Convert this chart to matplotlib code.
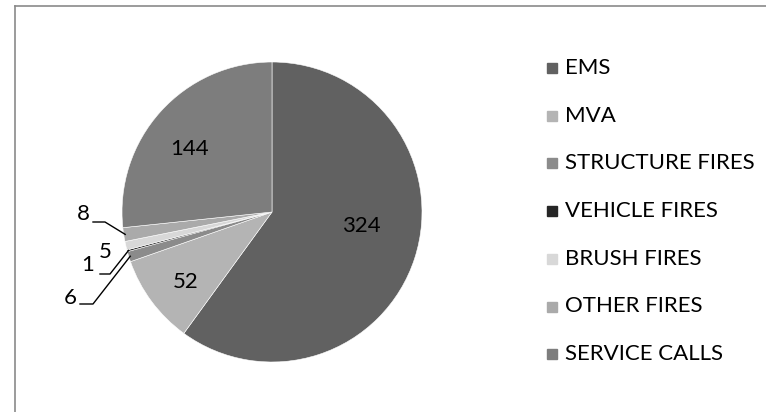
import numpy as np
import matplotlib.pyplot as plt
from matplotlib.patches import Rectangle
from matplotlib.lines import Line2D

plt.rcParams['font.family'] = ['Lato', 'DejaVu Sans']

###### Data #######
categories = ['EMS', 'MVA', 'STRUCTURE FIRES', 'VEHICLE FIRES',
              'BRUSH FIRES', 'OTHER FIRES', 'SERVICE CALLS']
calls = [324, 52, 6, 1, 5, 8, 144]
colors = ['#616161', '#b4b4b4', '#8b8b8b', '#262626',
          '#d8d8d8', '#aaaaaa', '#7d7d7d']
###################

W, H = 766, 412
R = 150.0           # pie radius in px
cx, cy = 272, 212   # pie centre in px
FS = 16


def px(x, y):
    # pixel -> data coords (pie radius = 1)
    return (x - cx) / R, (cy - y) / R


fig = plt.figure(figsize=(W / 100, H / 100), dpi=100)
ax = fig.add_axes([0, 0, 1, 1])
wedges, _ = ax.pie(calls, colors=colors, startangle=90, counterclock=False,
                   wedgeprops=dict(edgecolor='white', linewidth=0.4))
ax.set_xlim(-cx / R, (W - cx) / R)
ax.set_ylim((cy - H) / R, cy / R)
ax.axis('off')

# big slice labels (inside)
inside = {0: (361, 226), 1: (186, 282), 6: (190, 149)}
for i, (x, y) in inside.items():
    ax.text(*px(x, y), str(calls[i]), ha='center', va='center', fontsize=FS)

# small slice labels with leader lines
# idx: (text pos, leader points)
outside = {
    5: ((83, 214), [(93, 222), (105, 222)]),
    4: ((105, 252), []),
    3: ((88, 265), [(100, 274), (110, 274)]),
    2: ((70, 298), [(80, 304), (93, 304)]),
}
for i, ((x, y), pts) in outside.items():
    ax.text(*px(x, y), str(calls[i]), ha='center', va='center', fontsize=FS)
    if pts:
        w = wedges[i]
        mid = np.deg2rad((w.theta1 + w.theta2) / 2)
        ex, ey = np.cos(mid) * 0.99, np.sin(mid) * 0.99
        xs = [px(*p)[0] for p in pts] + [ex]
        ys = [px(*p)[1] for p in pts] + [ey]
        ax.add_line(Line2D(xs, ys, color='black', lw=1.0))

# legend
for i, (name, c) in enumerate(zip(categories, colors)):
    yc = 68 + 47.7 * i
    fig.patches.append(Rectangle((547 / W, 1 - (yc + 5) / H), 10 / W, 10 / H,
                                 transform=fig.transFigure, color=c))
    fig.text(565 / W, 1 - yc / H, name, ha='left', va='center', fontsize=FS)

# chart border (cut at right and bottom)
fig.add_artist(Line2D([15 / W, 1], [1 - 5.5 / H] * 2,
                      transform=fig.transFigure, color='#8a8a8a', lw=1.2))
fig.add_artist(Line2D([15 / W] * 2, [1 - 5.5 / H, 0],
                      transform=fig.transFigure, color='#8a8a8a', lw=1.2))

fig.savefig('out.png', dpi=100)
